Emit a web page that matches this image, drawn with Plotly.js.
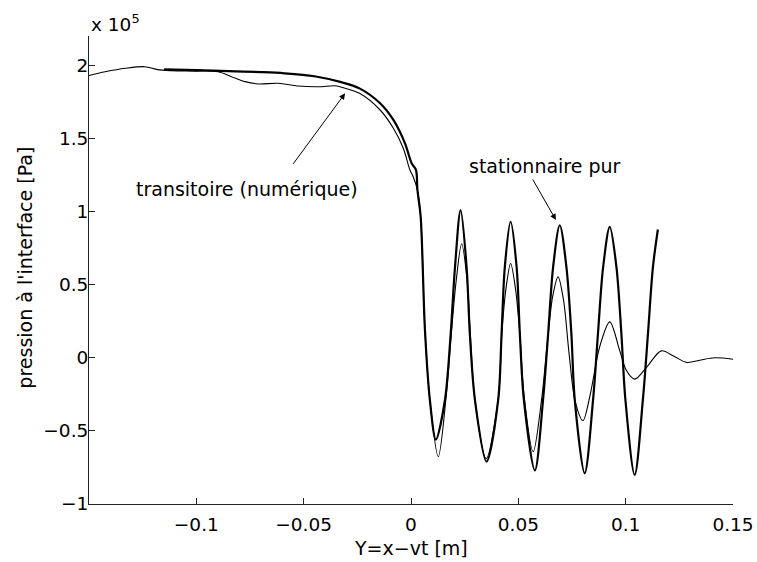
<!DOCTYPE html>
<html>
<head>
<meta charset="utf-8">
<script src="https://cdn.plot.ly/plotly-3.0.1.min.js"></script>
<style>
  html, body { margin: 0; padding: 0; background: #fff; }
  #chart { width: 757px; height: 562px; }
</style>
</head>
<body>
<div id="chart"></div>
<script>
// Curve: "transitoire (numérique)" (thin line), pressure in units of 1e5 Pa
const transX = [-0.15, -0.1425, -0.133, -0.124, -0.118, -0.1115, -0.1006, -0.0898, -0.0836, -0.0773,
  -0.0711, -0.0618, -0.0525, -0.0432, -0.0354, -0.0331, -0.024, -0.0144, -0.0082, -0.0036,
  -0.0005, 0.001, 0.003, 0.0045, 0.0065, 0.0088, 0.0127, 0.0162, 0.0188, 0.021,
  0.0236, 0.0262, 0.0276, 0.0298, 0.035, 0.0406, 0.0423, 0.0443, 0.0464, 0.0486,
  0.0507, 0.0526, 0.0569, 0.0608, 0.0635, 0.066, 0.0685, 0.071, 0.0737, 0.0765,
  0.0801, 0.0835, 0.0879, 0.0926, 0.0972, 0.1003, 0.1042, 0.11, 0.1166, 0.1225,
  0.1285, 0.135, 0.1414, 0.15];
const transY = [1.93, 1.955, 1.979, 1.99, 1.97, 1.963, 1.96, 1.956, 1.922, 1.888,
  1.872, 1.877, 1.858, 1.853, 1.86, 1.853, 1.808, 1.694, 1.569, 1.432,
  1.284, 1.238, 1.147, 0.964, 0.19, -0.29, -0.677, -0.29, 0.166, 0.52,
  0.78, 0.52, 0.166, -0.29, -0.69, -0.29, 0.166, 0.48, 0.644, 0.48,
  0.166, -0.25, -0.643, -0.29, 0.1, 0.42, 0.553, 0.4, 0.02, -0.3,
  -0.43, -0.25, 0.075, 0.245, 0.05, -0.085, -0.146, -0.06, 0.047, 0.01,
  -0.032, -0.015, 0.0, -0.01];

// Curve: "stationnaire pur" (thick line)
const statX = [-0.115, -0.1, -0.085, -0.07, -0.059, -0.045, -0.033, -0.024, -0.0144, -0.0082,
  -0.0028, 0.0003, 0.0023, 0.003, 0.0045, 0.0065, 0.0088, 0.0116, 0.0158, 0.0185,
  0.0205, 0.0231, 0.0259, 0.0274, 0.0298, 0.0352, 0.0406, 0.0422, 0.0437, 0.0464,
  0.0492, 0.0507, 0.0526, 0.0577, 0.0615, 0.0639, 0.0662, 0.0693, 0.0724, 0.0747,
  0.0763, 0.0809, 0.0848, 0.0871, 0.0895, 0.0926, 0.0957, 0.098, 0.0999, 0.1042,
  0.108, 0.1104, 0.1127, 0.115];
const statY = [1.972, 1.966, 1.96, 1.953, 1.945, 1.925, 1.886, 1.842, 1.74, 1.626,
  1.466, 1.33, 1.284, 1.147, 0.964, 0.19, -0.29, -0.56, -0.29, 0.166,
  0.62, 1.01, 0.62, 0.166, -0.29, -0.71, -0.29, 0.166, 0.62, 0.93,
  0.62, 0.166, -0.29, -0.77, -0.29, 0.166, 0.62, 0.906, 0.62, 0.166,
  -0.29, -0.79, -0.29, 0.166, 0.62, 0.895, 0.62, 0.166, -0.29, -0.80,
  -0.29, 0.166, 0.62, 0.877];

const xTickVals = [-0.1, -0.05, 0, 0.05, 0.1, 0.15];
const xTickText = ['\u22120.1', '\u22120.05', '0', '0.05', '0.1', '0.15'];
const yTickVals = [-1, -0.5, 0, 0.5, 1, 1.5, 2];
const yTickText = ['\u22121', '\u22120.5', '0', '0.5', '1', '1.5', '2'];

const xTitle = 'Y=x\u2212vt [m]';
const yTitle = "pression \u00e0 l'interface [Pa]";
const exponentLabel = 'x 10<sup>5</sup>';
const labelTrans = 'transitoire (num\u00e9rique)';
const labelStat = 'stationnaire pur';

const FONT = 'DejaVu Sans, Liberation Sans, Arial, sans-serif';

const traces = [
  { x: transX, y: transY, mode: 'lines', type: 'scatter',
    line: { color: '#000', width: 1.1, shape: 'spline', smoothing: 0.9 } },
  { x: statX, y: statY, mode: 'lines', type: 'scatter',
    line: { color: '#000', width: 2.2, shape: 'spline', smoothing: 0.9 } }
];

const axisCommon = {
  showline: true, linecolor: '#222', linewidth: 1, mirror: false,
  showgrid: false, zeroline: false,
  ticks: 'inside', ticklen: 6, tickcolor: '#222', tickwidth: 1,
  tickfont: { family: FONT, size: 18.5, color: '#000' }
};

const layout = {
  width: 757, height: 562,
  margin: { l: 89, r: 24, t: 36, b: 58, pad: 0 },
  paper_bgcolor: '#fff', plot_bgcolor: '#fff',
  showlegend: false, hovermode: false,
  font: { family: FONT, size: 19, color: '#000' },
  xaxis: Object.assign({}, axisCommon, {
    range: [-0.15, 0.15], tickmode: 'array', tickvals: xTickVals, ticktext: xTickText,
    ticklabelstandoff: 4
  }),
  yaxis: Object.assign({}, axisCommon, {
    range: [-1, 2.2], tickmode: 'array', tickvals: yTickVals, ticktext: yTickText,
    ticklabelstandoff: -4
  }),
  annotations: [
    { text: xTitle, xref: 'paper', yref: 'paper', x: 0.5, y: -0.094,
      xanchor: 'center', yanchor: 'middle', showarrow: false, font: { family: FONT, size: 19 } },
    { text: yTitle, xref: 'paper', yref: 'paper', x: -0.0994, y: 0.505, textangle: -90,
      xanchor: 'center', yanchor: 'middle', showarrow: false, font: { family: FONT, size: 19 } },
    { text: exponentLabel, xref: 'paper', yref: 'paper', x: 0, y: 1.028,
      xanchor: 'left', yanchor: 'middle', showarrow: false, font: { family: FONT, size: 18.5 } },
    { text: labelTrans, xref: 'x', yref: 'y', x: -0.0762, y: 1.154,
      xanchor: 'center', yanchor: 'middle', showarrow: false, font: { family: FONT, size: 19 } },
    { text: labelStat, xref: 'x', yref: 'y', x: 0.0624, y: 1.311,
      xanchor: 'center', yanchor: 'middle', showarrow: false, font: { family: FONT, size: 19 } },
    { text: '', xref: 'x', yref: 'y', x: -0.0307, y: 1.808, axref: 'pixel', ayref: 'pixel',
      ax: -53, ay: 72, showarrow: true, arrowhead: 2, arrowsize: 1.2, arrowwidth: 1, arrowcolor: '#000' },
    { text: '', xref: 'x', yref: 'y', x: 0.0675, y: 0.942, axref: 'pixel', ayref: 'pixel',
      ax: -24, ay: -42, showarrow: true, arrowhead: 2, arrowsize: 1.2, arrowwidth: 1, arrowcolor: '#000' }
  ]
};

Plotly.newPlot('chart', traces, layout, { staticPlot: true, displayModeBar: false });
</script>
</body>
</html>
